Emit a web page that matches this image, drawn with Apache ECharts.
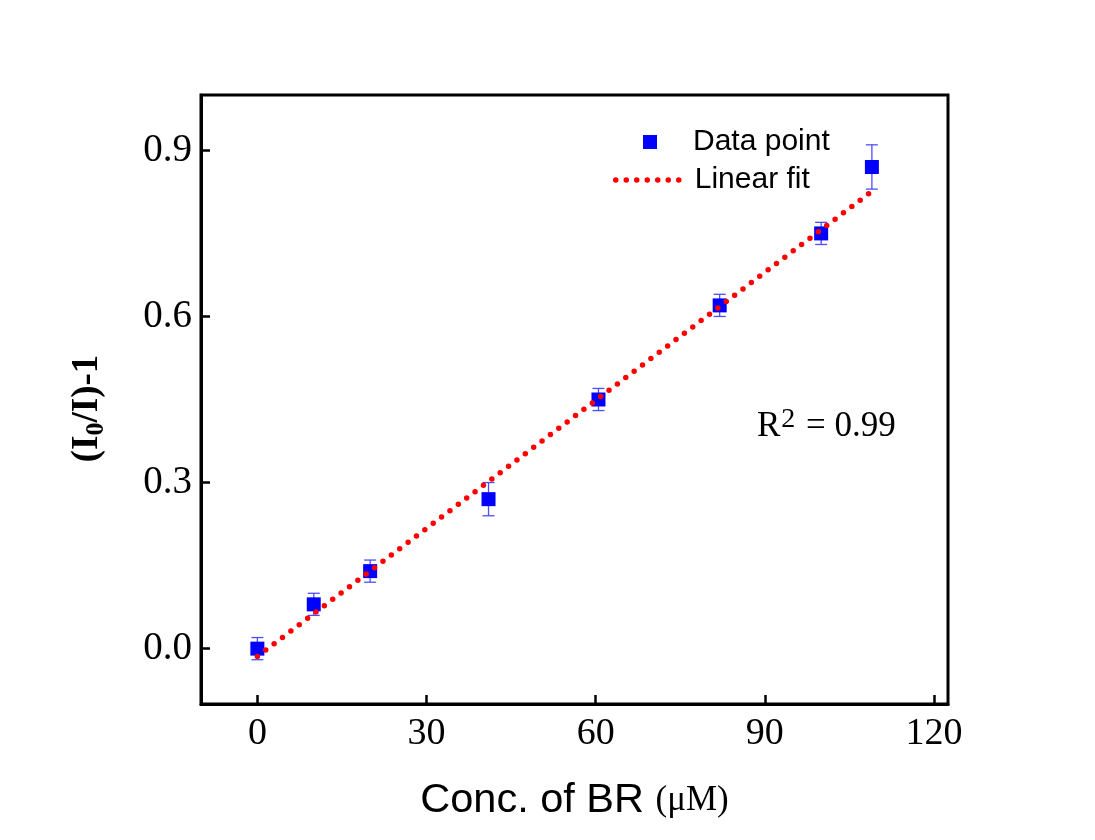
<!DOCTYPE html>
<html>
<head>
<meta charset="utf-8">
<script src="https://cdn.jsdelivr.net/npm/echarts@6/dist/echarts.min.js"></script>
<style>
html,body{margin:0;padding:0;background:#fff;}
#chart{width:1095px;height:840px;}
</style>
</head>
<body>
<div id="chart"></div>
<script>
// ---- data ----
var concX = [0, 10, 20, 41, 60.5, 82, 100, 109];
var ratioY = [0.0, 0.08, 0.14, 0.27, 0.45, 0.62, 0.75, 0.87];
var errY = [0.02, 0.02, 0.02, 0.03, 0.02, 0.02, 0.02, 0.04];
var fitX = [0, 109];
var fitY = [-0.014, 0.826];
var xTicks = [0, 30, 60, 90, 120];
var yTicks = [0.0, 0.3, 0.6, 0.9];
var r2Text = '0.99';

var pointData = concX.map(function (x, i) { return [x, ratioY[i]]; });
var errData = concX.map(function (x, i) { return [x, ratioY[i] - errY[i], ratioY[i] + errY[i]]; });
var fitData = fitX.map(function (x, i) { return [x, fitY[i]]; });

var serif = '"Liberation Serif","Times New Roman",serif';
var sans = '"Liberation Sans",Arial,sans-serif';
var fitDash = [0, 10.5];

var chart = echarts.init(document.getElementById('chart'), null, {renderer: 'canvas'});
chart.setOption({
  backgroundColor: '#ffffff',
  animation: false,
  grid: {
    left: 201, right: 147, top: 95, bottom: 136,
    show: true, borderColor: '#000', borderWidth: 3, backgroundColor: 'transparent',
    containLabel: false, outerBoundsMode: 'none'
  },
  legend: [
    {
      data: ['Data point'], left: 638, top: 122, orient: 'vertical',
      itemWidth: 14, itemHeight: 14, icon: 'rect',
      textStyle: {fontFamily: sans, fontSize: 30, color: '#000', padding: [0, 0, 0, 31]},
      selectedMode: false
    },
    {
      data: ['Linear fit'], left: 608, top: 160, orient: 'vertical',
      itemWidth: 70, itemHeight: 26,
      itemStyle: {color: 'rgba(0,0,0,0)', borderColor: 'rgba(0,0,0,0)', borderWidth: 0, opacity: 0},
      lineStyle: {color: '#ff0000', width: 5.5, type: fitDash, cap: 'round', opacity: 1},
      textStyle: {fontFamily: sans, fontSize: 30, color: '#000', padding: [0, 0, 0, 4]},
      selectedMode: false
    }
  ],
  xAxis: {
    type: 'value', min: -10, max: 122.5,
    name: '{a|Conc. of BR }{b|(\u03bcM)}',
    nameLocation: 'middle', nameGap: 76,
    nameTextStyle: {
      rich: {
        a: {fontFamily: sans, fontSize: 41.5, color: '#000'},
        b: {fontFamily: serif, fontSize: 35, color: '#000'}
      }
    },
    axisLine: {show: true, onZero: false, lineStyle: {color: '#000', width: 3}},
    axisTick: {show: true, inside: true, length: 9, lineStyle: {color: '#000', width: 2.5}, customValues: xTicks},
    axisLabel: {show: true, margin: 11, fontFamily: serif, fontSize: 38, color: '#000', customValues: xTicks},
    splitLine: {show: false}
  },
  yAxis: {
    type: 'value', min: -0.1, max: 1.0,
    name: '{a|(I}{s|0}{a|/I)-1}',
    nameLocation: 'middle', nameGap: 92, nameRotate: 90,
    nameTextStyle: {
      padding: [0, 18, 0, 0],
      rich: {
        a: {fontFamily: serif, fontSize: 37, fontWeight: 'bold', color: '#000', lineHeight: 44},
        s: {fontFamily: serif, fontSize: 26, fontWeight: 'bold', color: '#000', lineHeight: 44, verticalAlign: 'bottom'}
      }
    },
    axisLine: {show: true, onZero: false, lineStyle: {color: '#000', width: 3}},
    axisTick: {show: true, inside: true, length: 9, lineStyle: {color: '#000', width: 2.5}, customValues: yTicks},
    axisLabel: {
      show: true, margin: 9, fontFamily: serif, fontSize: 39, color: '#000', customValues: yTicks,
      formatter: function (v) { return v.toFixed(1); }
    },
    splitLine: {show: false}
  },
  graphic: [
    {
      type: 'text', left: 757, top: 406, z: 10,
      style: {
        text: '{r|R}{s|2}{r| = ' + r2Text + '}',
        rich: {
          r: {fontFamily: serif, fontSize: 35, fill: '#000', lineHeight: 42},
          s: {fontFamily: serif, fontSize: 28, fill: '#000', lineHeight: 42, verticalAlign: 'top', padding: [0, 2, 0, 1]}
        }
      }
    }
  ],
  series: [
    {
      name: 'Error', type: 'custom', z: 2,
      data: errData,
      renderItem: function (params, api) {
        var x = api.value(0);
        var lo = api.coord([x, api.value(1)]);
        var hi = api.coord([x, api.value(2)]);
        var hw = 6;
        var st = {stroke: '#4d4dff', lineWidth: 1.3};
        return {
          type: 'group',
          children: [
            {type: 'line', shape: {x1: lo[0], y1: lo[1], x2: hi[0], y2: hi[1]}, style: st},
            {type: 'line', shape: {x1: lo[0] - hw, y1: lo[1], x2: lo[0] + hw, y2: lo[1]}, style: st},
            {type: 'line', shape: {x1: hi[0] - hw, y1: hi[1], x2: hi[0] + hw, y2: hi[1]}, style: st}
          ]
        };
      },
      silent: true
    },
    {
      name: 'Data point', type: 'scatter', z: 3,
      symbol: 'rect', symbolSize: 14,
      itemStyle: {color: '#0000ff', opacity: 1},
      data: pointData
    },
    {
      name: 'Linear fit', type: 'line', z: 4,
      symbol: 'none', showSymbol: false,
      lineStyle: {color: '#ff0000', width: 5.5, type: fitDash, cap: 'round'},
      itemStyle: {color: '#ff0000'},
      data: fitData
    }
  ]
});
</script>
</body>
</html>
